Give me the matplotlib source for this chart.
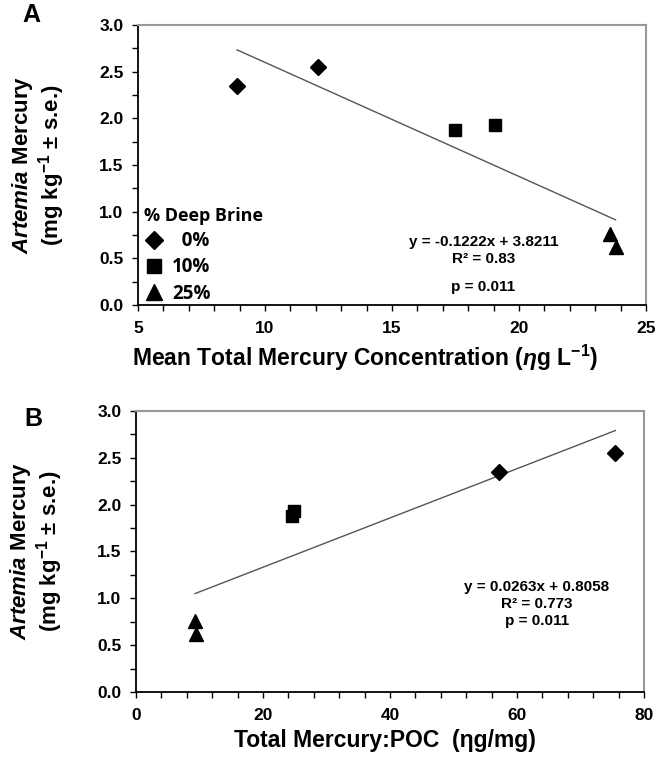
import numpy as np
import matplotlib.pyplot as plt
from matplotlib.lines import Line2D
from matplotlib.ticker import MultipleLocator

plt.rcParams['font.family'] = ['Liberation Sans', 'DejaVu Sans']
plt.rcParams['font.weight'] = 'bold'
plt.rcParams['axes.labelweight'] = 'bold'
plt.rcParams['mathtext.fontset'] = 'custom'
plt.rcParams['mathtext.rm'] = 'Liberation Sans:bold'
plt.rcParams['mathtext.it'] = 'Liberation Sans:italic:bold'
plt.rcParams['mathtext.bf'] = 'Liberation Sans:bold'

# Panel A: mean total mercury concentration (ng/L) vs Artemia mercury
groups = ['0%', '10%', '25%']
markers = ['D', 's', '^']
a_x = [[8.9, 12.1], [17.5, 19.05], [23.6, 23.8]]
a_y = [[2.35, 2.55], [1.88, 1.93], [0.76, 0.62]]
a_slope, a_icpt = -0.1222, 3.8211
a_fit_x = [8.9, 23.8]

# Panel B: total mercury:POC (ng/mg) vs Artemia mercury
b_x = [[57.2, 75.5], [24.5, 24.9], [9.3, 9.5]]
b_y = [[2.35, 2.55], [1.88, 1.93], [0.76, 0.62]]
b_slope, b_icpt = 0.0263, 0.8058
b_fit_x = [9.3, 75.5]

ylabel = "$\\it{Artemia}$ Mercury\n(mg kg$^{-1}$ ± s.e.)"

fig = plt.figure(figsize=(6.67, 7.57), dpi=100)
axA = fig.add_axes([0.2069, 0.5971, 0.7616, 0.3699])
axB = fig.add_axes([0.2039, 0.0859, 0.7616, 0.3712])

msize = {'D': 8, 's': 9, '^': 10}


def style(ax):
    ax.set_ylim(0, 3.0)
    ax.yaxis.set_major_locator(MultipleLocator(0.5))
    ax.yaxis.set_minor_locator(MultipleLocator(0.25))
    ax.yaxis.set_major_formatter(plt.FormatStrFormatter('%.1f'))
    ax.tick_params(which='both', direction='out', length=4.5, width=1, top=False, right=False)
    ax.tick_params(axis='both', labelsize=12.5)
    ax.tick_params(axis='x', pad=7)
    ax.tick_params(axis='y', pad=6)
    ax.spines['top'].set_color('#999999')
    ax.spines['right'].set_color('#999999')
    ax.spines['top'].set_linewidth(1.5)
    ax.spines['right'].set_linewidth(1.5)
    for s in ['left', 'bottom']:
        ax.spines[s].set_linewidth(1.3)
    ax.set_ylabel(ylabel, fontsize=16, labelpad=23, linespacing=1.05)
    ax.xaxis.label.set_va('center')


def fit_line(ax, xs, m, b):
    xs = np.array(xs)
    ax.plot(xs, m * xs + b, color='#555555', lw=1)


# Panel A
fit_line(axA, a_fit_x, a_slope, a_icpt)
for xs, ys, mk in zip(a_x, a_y, markers):
    axA.plot(xs, ys, ls='none', marker=mk, color='black', ms=msize[mk], clip_on=False)
axA.set_xlim(5, 25)
axA.xaxis.set_major_locator(MultipleLocator(5))
axA.xaxis.set_minor_locator(MultipleLocator(1))
style(axA)
axA.set_xlabel("Mean Total Mercury Concentration ($\\it{\\eta}$g L$^{-1}$)", fontsize=16.5)
axA.xaxis.set_label_coords(0.447, -0.19)
axA.text(18.6, 0.67, "y = -0.1222x + 3.8211", ha='center', va='center', fontsize=11)
axA.text(18.6, 0.49, "R² = 0.83", ha='center', va='center', fontsize=11)
axA.text(18.6, 0.19, "p = 0.011", ha='center', va='center', fontsize=11)

handles = [Line2D([], [], ls='none', marker=mk, color='black', ms=msize[mk] + 1) for mk in markers]
labels = ['  0%', '10%', '25%']
leg = axA.legend(handles, labels, title='% Deep Brine', loc='lower left',
                 bbox_to_anchor=(-0.01, -0.035), frameon=False, handlelength=1.0,
                 handletextpad=0.5, labelspacing=0.33, borderaxespad=0.2,
                 prop={'family': 'Open Sans', 'weight': 'bold', 'size': 13.5},
                 title_fontproperties={'family': 'Open Sans', 'weight': 'bold', 'size': 13})
leg._legend_box.align = 'left'

# Panel B
fit_line(axB, b_fit_x, b_slope, b_icpt)
for xs, ys, mk in zip(b_x, b_y, markers):
    axB.plot(xs, ys, ls='none', marker=mk, color='black', ms=msize[mk], clip_on=False)
axB.set_xlim(0, 80)
axB.xaxis.set_major_locator(MultipleLocator(20))
axB.xaxis.set_minor_locator(MultipleLocator(4))
style(axB)
axB.set_xlabel("Total Mercury:POC  (ηg/mg)", fontsize=16.5)
axB.xaxis.set_label_coords(0.49, -0.171)
axB.text(63.1, 1.12, "y = 0.0263x + 0.8058", ha='center', va='center', fontsize=11)
axB.text(63.1, 0.94, "R² = 0.773", ha='center', va='center', fontsize=11)
axB.text(63.1, 0.76, "p = 0.011", ha='center', va='center', fontsize=11)

fig.text(0.033, 0.98, 'A', fontsize=18, fontweight='bold', va='center')
fig.text(0.037, 0.447, 'B', fontsize=18, fontweight='bold', va='center')

# make sure tick labels come out bold
fig.canvas.draw()
for ax in (axA, axB):
    for lbl in ax.get_xticklabels() + ax.get_yticklabels():
        lbl.set_fontweight('bold')

fig.savefig('out.png', dpi=100)
